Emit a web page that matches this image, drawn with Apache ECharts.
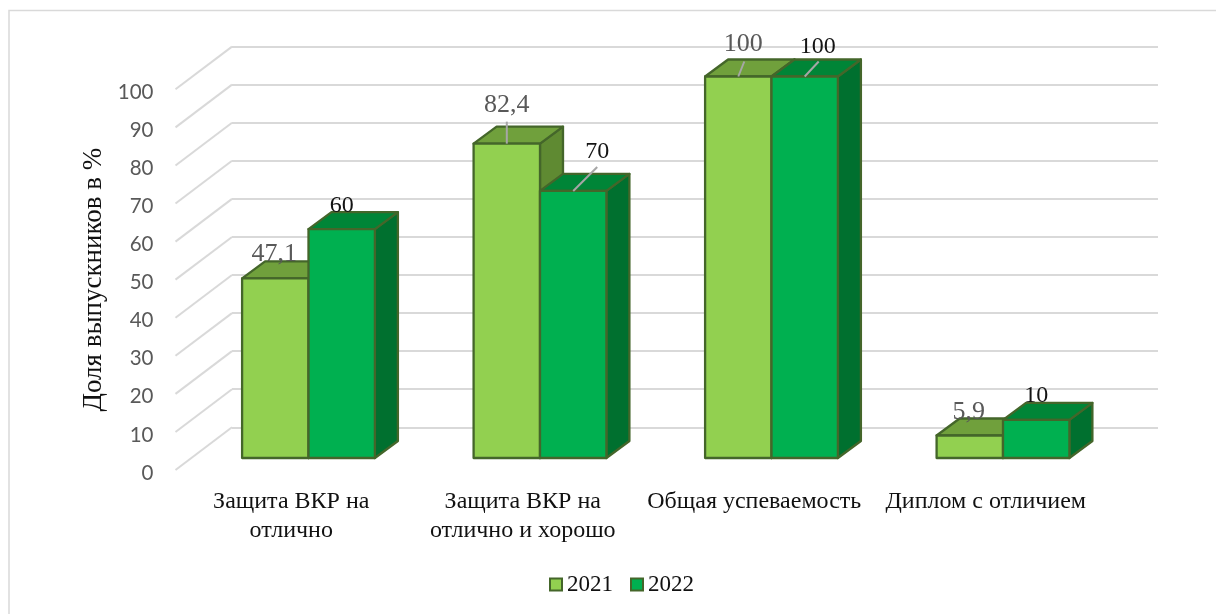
<!DOCTYPE html>
<html><head><meta charset="utf-8">
<style>html,body{margin:0;padding:0;background:#fff}#c{width:1216px;height:614px}</style>
<script src="https://cdn.jsdelivr.net/npm/echarts@6/dist/echarts.min.js"></script>
</head><body><div id="c"></div>
<script>
const categories = ['Защита ВКР на\nотлично','Защита ВКР на\nотлично и хорошо','Общая успеваемость','Диплом с отличием'];
const values2021 = [47.1, 82.4, 100, 5.9];
const values2022 = [60, 70, 100, 10];
const seriesNames = ['2021','2022'];
const gridTicks = [0,10,20,30,40,50,60,70,80,90,100];
const yTitle = 'Доля выпускников в %';
// label placement relative to the centre of each bar's front-top edge: [dx, dy, leaderEndDx, leaderEndDy]
const labelPlace2021 = [[-1,-24,0,0],[0,-38,0,-22],[5,-32,6,-15],[-1,-23,0,0]];
const labelPlace2022 = [[0,-23,0,0],[24,-39,24,-24],[13,-30,14,-15],[0,-24,0,0]];

const SERIF = '"Liberation Serif","Times New Roman",serif';
const SANS = 'Lato,"Liberation Sans",Arial,sans-serif';
const EDGE = '#44662a';
const BAR_FRAC = 66.4/231.5, DX = 23, DY = -17;
const WALL_DX = 56.5, WALL_DY = -42.7;

function barSeries(name, values, place, front, top, side, sign, labelColor, labelSize){
  return {
    type:'custom', name, coordinateSystem:'cartesian2d', xAxisIndex:0, yAxisIndex:0, clip:false, z:5,
    itemStyle:{color:front,borderColor:EDGE,borderWidth:2},
    encode:{x:0,y:1},
    data: values.map((v,i)=>[i,v,i]),
    renderItem(params, api){
      const i = api.value(2), v = api.value(1);
      const c = api.coord([i,v]), b = api.coord([i,0]);
      const w = api.size([1,0])[0]*BAR_FRAC;
      const x0 = sign<0 ? c[0]-w : c[0], x1 = x0+w, yt = c[1], yb = b[1];
      const st = {stroke:EDGE,lineWidth:2.3,lineJoin:'round'};
      const poly = (pts,fill)=>({type:'polygon',shape:{points:pts},style:Object.assign({fill},st)});
      const cx = (x0+x1)/2, p = place[i];
      const children = [
        poly([[x1,yt],[x1+DX,yt+DY],[x1+DX,yb+DY],[x1,yb]],side),
        poly([[x0,yt],[x0+DX,yt+DY],[x1+DX,yt+DY],[x1,yt]],top),
        poly([[x0,yt],[x1,yt],[x1,yb],[x0,yb]],front)
      ];
      if(p[2]||p[3]) children.push({type:'line',shape:{x1:cx,y1:yt,x2:cx+p[2],y2:yt+p[3]},style:{stroke:'#a6a6a6',lineWidth:2}});
      children.push({type:'text',style:{x:cx+p[0],y:yt+p[1],text:String(v).replace('.',','),fill:labelColor,font:labelSize+'px '+SERIF,align:'center',verticalAlign:'middle'}});
      return {type:'group',children};
    }
  };
}

const option = {
  animation:false,
  backgroundColor:'#fff',
  graphic:[{type:'polyline',silent:true,shape:{points:[[9,614],[9,10.5],[1216,10.5]]},style:{stroke:'#d9d9d9',lineWidth:1.5,fill:null}}],
  legend:{
    left:544, top:568, itemWidth:12, itemHeight:12, itemGap:17, icon:'rect',
    textStyle:{fontFamily:SERIF,fontSize:23,color:'#111'},
    data:[
      {name:'2021',itemStyle:{color:'#92d050',borderColor:EDGE,borderWidth:2}},
      {name:'2022',itemStyle:{color:'#00b050',borderColor:EDGE,borderWidth:2}}
    ]
  },
  grid:[
    {left:192.75,width:926,top:76.5,height:381.5},   // plane of the bars' front faces
    {left:175.5,width:926,top:89.3,height:380.7},    // front edge of the floor (axis labels)
    {left:232,width:926,top:46.6,height:380.7}       // back wall
  ],
  xAxis:[
    {gridIndex:0,type:'category',data:categories,show:false},
    {gridIndex:1,type:'category',data:categories,axisLine:{show:false},axisTick:{show:false},
      axisLabel:{interval:0,margin:17,fontFamily:SERIF,fontSize:24,color:'#111',lineHeight:29,verticalAlign:'top'}},
    {gridIndex:2,type:'category',data:categories,show:false}
  ],
  yAxis:[
    {gridIndex:0,type:'value',min:0,max:100,interval:10,show:false},
    {gridIndex:1,type:'value',min:0,max:100,interval:10,
      axisLine:{show:false},axisTick:{show:false},splitLine:{show:false},
      axisLabel:{margin:22,fontFamily:SANS,fontSize:20.5,color:'#595959',verticalAlign:'top',lineHeight:6},
      name:yTitle,nameLocation:'middle',nameGap:62,nameRotate:90,
      nameTextStyle:{fontFamily:SERIF,fontSize:27,color:'#111'}},
    {gridIndex:2,type:'value',min:0,max:100,interval:10,
      axisLine:{show:false},axisTick:{show:false},axisLabel:{show:false},
      splitLine:{show:true,lineStyle:{color:'#d9d9d9',width:2}}}
  ],
  series:[
    {type:'custom',name:'floorLines',coordinateSystem:'cartesian2d',xAxisIndex:1,yAxisIndex:1,clip:false,z:1,silent:true,
      data:gridTicks.map(t=>[0,t]),encode:{y:1},
      renderItem(params,api){
        const rect = params.coordSys;
        const y = api.coord([0,api.value(1)])[1];
        return {type:'line',shape:{x1:rect.x,y1:y,x2:rect.x+WALL_DX,y2:y+WALL_DY},style:{stroke:'#d9d9d9',lineWidth:2}};
      }},
    barSeries('2021',values2021,labelPlace2021,'#92d050','#70a03c','#5f8a32',-1,'#595959',26),
    barSeries('2022',values2022,labelPlace2022,'#00b050','#008537','#00702f',1,'#141414',24)
  ]
};
const chart = echarts.init(document.getElementById('c'),null,{renderer:'canvas',width:1216,height:614});
chart.setOption(option);
</script></body></html>
